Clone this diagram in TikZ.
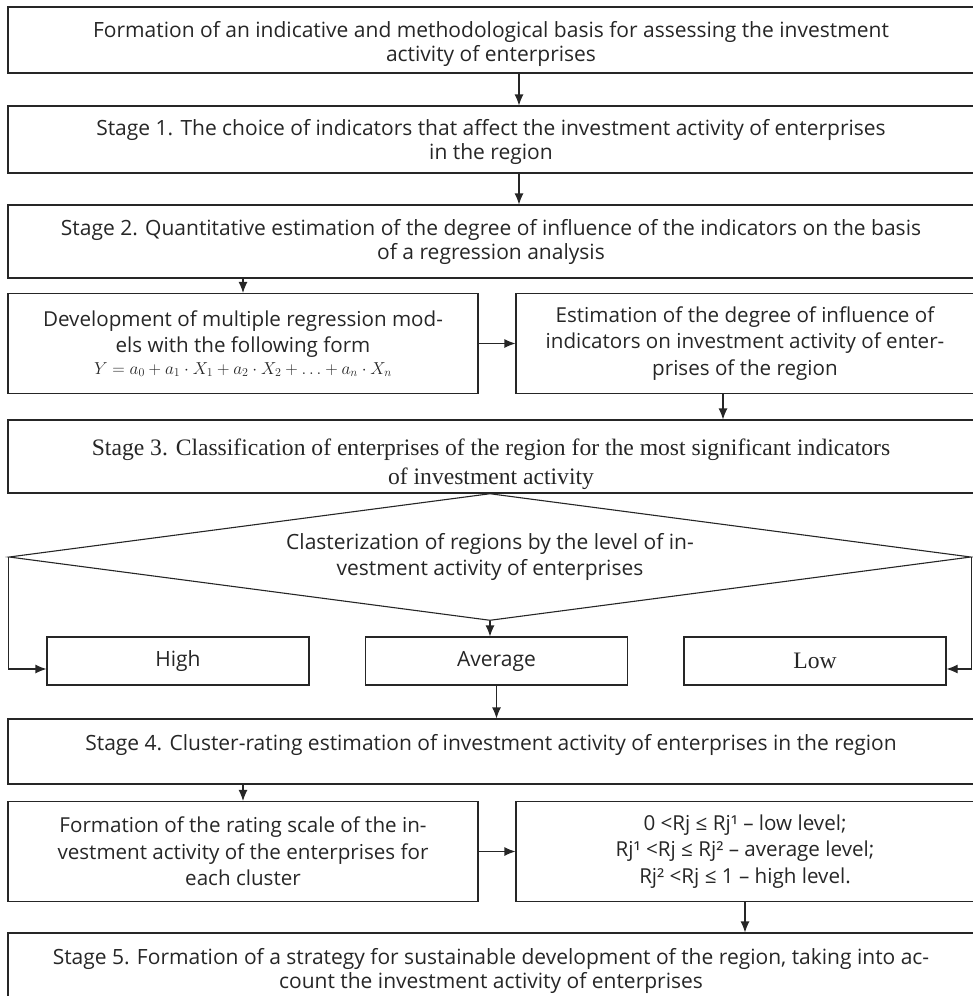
\documentclass[tikz,border=0pt]{standalone}
\usepackage{fontspec}
\setmainfont{Open Sans}
\newfontfamily\timesfont{Liberation Serif}
\usetikzlibrary{shapes.geometric,arrows.meta}
\newcommand{\vstrut}[1]{\rule{0pt}{#1}}

\begin{document}
\begin{tikzpicture}[x=1pt,y=-1pt,line width=1.1pt,draw=black!85,text=black!85,>={Latex[length=11pt,width=9pt]},
	box/.style={draw, rectangle, align=center, inner sep=0pt, font=\fontsize{21}{24}\selectfont},
	serif/.style={font=\timesfont\fontsize{23.6}{28.5}\selectfont},
	widebox/.style={box, minimum width=966pt},
	halfbox/.style={box, minimum height=100pt, font=\fontsize{20.6}{26.5}\selectfont},
	levelbox/.style={box, minimum width=262pt, minimum height=48pt}]
	
	\useasboundingbox (0,0) rectangle (973,996);
	
	% Basis
	\node (basis) [widebox, minimum height=66pt] at (491,40) {\vstrut{24pt}Formation of an indicative and methodological basis for assessing the investment\\activity of enterprises};
	
	% Stufen 1 und 2
	\node (stageone) [widebox, minimum height=67pt] at (491,139.5) {\vstrut{22pt}Stage 1. The choice of indicators that affect the investment activity of enterprises\\in the region};
	\node (stagetwo) [widebox, minimum height=73pt] at (491,241.5) {Stage 2. Quantitative estimation of the degree of influence of the indicators on the basis\\of a regression analysis};
	\draw[->] ([xshift=28pt]basis.south) -- ([xshift=28pt]stageone.north);
	\draw[->] ([xshift=28pt]stageone.south) -- ([xshift=28pt]stagetwo.north);
	
	% Regression
	\node (reg) [halfbox, minimum width=470pt] at (243,343.5) {Development of multiple regression mod-\\els with the following form\\[-5pt]{\fontsize{16.5}{18}\selectfont$Y = a_0 + a_1\cdot X_1 + a_2\cdot X_2 + \ldots + a_n\cdot X_n$}};
	\node (est) [halfbox, minimum width=458pt] at (745,343.5) {Estimation of the degree of influence of\\indicators on investment activity of enter-\\prises of the region};
	\draw[->] (reg.north |- stagetwo.south) -- (reg.north);
	\draw[->] (reg) -- (est);
	
	% Stufe 3
	\node (stagethree) [widebox, serif, minimum height=73pt] at (491,456.5) {\vstrut{32pt}Stage 3. Classification of enterprises of the region for the most significant indicators\\of investment activity};
	\draw[->] ([xshift=-22pt]est.south) -- ([xshift=-22pt]est.south |- stagethree.north);
	
	% Clusterung
	\node (clas) [draw, diamond, aspect=7.6, minimum width=962pt, minimum height=127pt, inner sep=0pt, align=center, font=\fontsize{21}{26}\selectfont] at (490,557) {Clasterization of regions by the level of in-\\vestment activity of enterprises};
	\node (high) [levelbox] at (178,661) {High};
	\node (avg) [levelbox] at (496.5,661) {Average};
	\node (low) [levelbox, serif] at (815,661) {Low};
	\draw[->] (clas.south) -- (clas.south |- avg.north);
	\draw[->] (clas.west) |- ([yshift=-8pt]high.west);
	\draw[->] (clas.east) |- ([yshift=-8pt]low.east);
	
	% Stufe 4
	\node (stagefour) [widebox, minimum height=65pt, text depth=19pt] at (491,751.5) {Stage 4. Cluster-rating estimation of investment activity of enterprises in the region};
	\draw[->] (avg.south) -- (avg.south |- stagefour.north);
	
	% Rating-Skala
	\node (rate) [halfbox, minimum width=470pt] at (243,851.5) {Formation of the rating scale of the in-\\vestment activity of the enterprises for\\each cluster};
	\node (levels) [halfbox, minimum width=458pt] at (745,851.5) {0 <Rj ≤ Rj¹ – low level;\\Rj¹ <Rj ≤ Rj² – average level;\\Rj² <Rj ≤ 1 – high level.};
	\draw[->] (rate.north |- stagefour.south) -- (rate.north);
	\draw[->] (rate) -- (levels);
	
	% Stufe 5
	\node (stagefive) [widebox, minimum height=67pt] at (491,966.5) {\vstrut{26pt}Stage 5. Formation of a strategy for sustainable development of the region, taking into ac-\\count the investment activity of enterprises};
	\draw[->] (levels.south) -- (levels.south |- stagefive.north);
	
\end{tikzpicture}
\end{document}
